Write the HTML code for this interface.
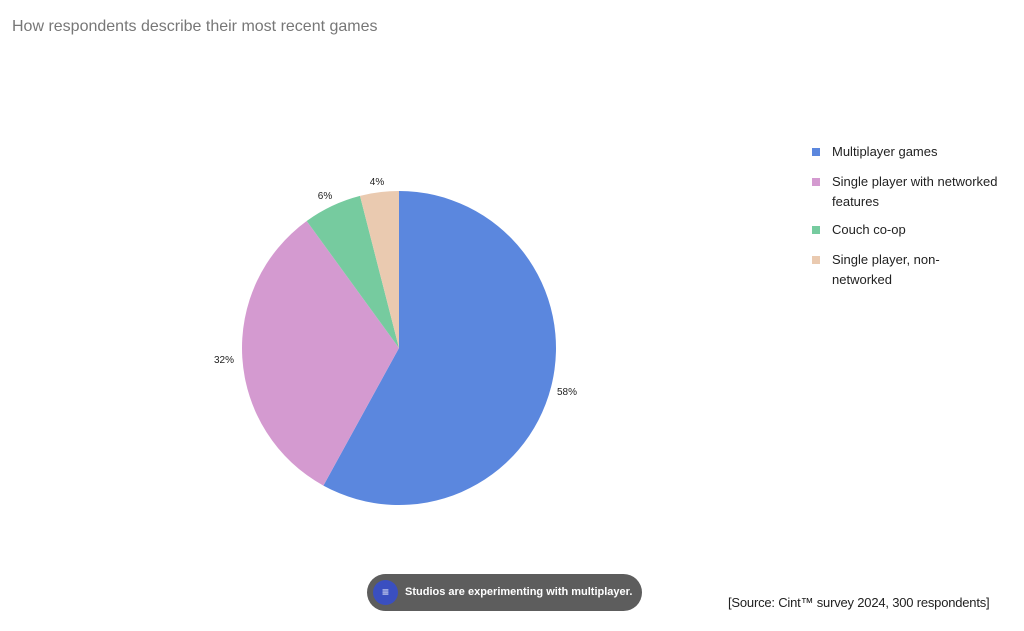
<!DOCTYPE html>
<html><head><meta charset="utf-8"><style>
body{margin:0;width:1024px;height:631px;background:#fff;font-family:"Liberation Sans",sans-serif;position:relative;overflow:hidden}
.t{position:absolute;left:12px;top:18px;font-size:16px;color:#777}
.lg{position:absolute;left:813px;font-size:13px;color:#222;line-height:20px}
.lg i{position:absolute;left:-1px;top:6px;width:8px;height:8px}
.lg span{display:block;margin-left:19px;width:175px}
.btn{position:absolute;left:367px;top:574px;width:275px;height:37px;border-radius:19px;background:#5d5d5d;color:#fff;font-size:11px;font-weight:bold}
.btn .c{position:absolute;left:6px;top:6px;width:25px;height:25px;border-radius:50%;background:#3a4fc0;text-align:center;line-height:25px;font-weight:normal;font-size:12px}
.src{position:absolute;left:728px;top:595px;font-size:13px;color:#222;white-space:nowrap;letter-spacing:-0.2px}
</style></head><body>
<div class="t">How respondents describe their most recent games</div>
<svg width="1024" height="631" style="position:absolute;left:0;top:0">
<path d="M399,348 L399,191 A157,157 0 1 1 323.4,485.6 Z" fill="#5b87de"/>
<path d="M399,348 L323.4,485.6 A157,157 0 0 1 306.7,221 Z" fill="#d49ad0"/>
<path d="M399,348 L306.7,221 A157,157 0 0 1 360,195.9 Z" fill="#76cb9f"/>
<path d="M399,348 L360,195.9 A157,157 0 0 1 399,191 Z" fill="#eacab0"/>
<g font-family="Liberation Sans,sans-serif" font-size="10" fill="#222" text-anchor="middle">
<text x="567" y="395">58%</text><text x="224" y="363">32%</text>
<text x="325" y="199">6%</text><text x="377" y="185">4%</text></g>
</svg>
<div class="lg" style="top:142px"><i style="background:#5b87de"></i><span>Multiplayer games</span></div>
<div class="lg" style="top:172px"><i style="background:#d49ad0"></i><span>Single player with networked features</span></div>
<div class="lg" style="top:220px"><i style="background:#76cb9f"></i><span>Couch co-op</span></div>
<div class="lg" style="top:250px"><i style="background:#eacab0"></i><span>Single player, non-<br>networked</span></div>
<div class="btn"><div class="c">≡</div><div style="position:absolute;left:38px;top:12px;white-space:nowrap">Studios are experimenting with multiplayer.</div></div>
<div class="src">[Source: Cint™ survey 2024, 300 respondents]</div>
</body></html>
